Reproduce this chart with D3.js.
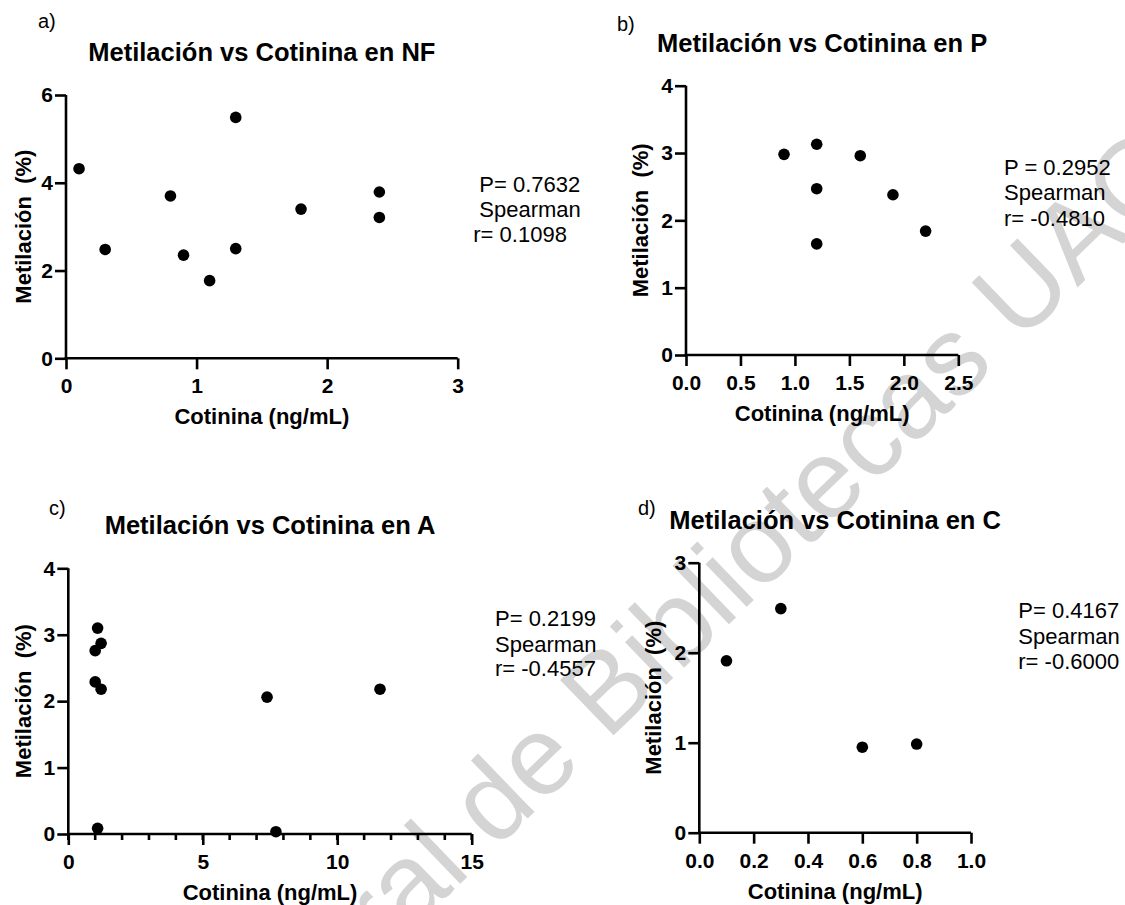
<!DOCTYPE html>
<html>
<head>
<meta charset="utf-8">
<script src="https://cdn.jsdelivr.net/npm/d3@7"></script>
<style>
  html, body { margin: 0; padding: 0; background: #ffffff; }
  svg { display: block; }
  text { font-family: "Liberation Sans", Arial, Helvetica, sans-serif; }
</style>
</head>
<body>
<svg id="chart" width="1125" height="905"></svg>
<script>
// ---------------- DATA ----------------
const nfCotinina = [0.1, 0.3, 0.8, 0.9, 1.1, 1.3, 1.3, 1.8, 2.4, 2.4];
const nfMetilacion = [4.32, 2.48, 3.70, 2.35, 1.77, 5.49, 2.50, 3.40, 3.79, 3.21];

const pCotinina = [0.9, 1.2, 1.2, 1.2, 1.6, 1.9, 2.2];
const pMetilacion = [2.98, 3.13, 2.47, 1.65, 2.96, 2.38, 1.84];

const aCotinina = [1.09, 1.22, 1.0, 1.0, 1.22, 1.09, 7.39, 7.72, 11.59];
const aMetilacion = [3.10, 2.87, 2.76, 2.29, 2.18, 0.085, 2.06, 0.035, 2.18];

const cCotinina = [0.1, 0.3, 0.6, 0.8];
const cMetilacion = [1.91, 2.49, 0.95, 0.985];

const titles = ["Metilación vs Cotinina en NF", "Metilación vs Cotinina en P",
                "Metilación vs Cotinina en A", "Metilación vs Cotinina en C"];
const panelLetters = ["a)", "b)", "c)", "d)"];
const statsText = [
  ["P= 0.7632", "Spearman", "r= 0.1098"],
  ["P = 0.2952", "Spearman", "r= -0.4810"],
  ["P= 0.2199", "Spearman", "r= -0.4557"],
  ["P= 0.4167", "Spearman", "r= -0.6000"]
];
const xTicksNF = [0, 1, 2, 3];
const yTicksNF = [0, 2, 4, 6];
const xTicksP = [0, 0.5, 1.0, 1.5, 2.0, 2.5];
const yTicksP = [0, 1, 2, 3, 4];
const xTicksA = [0, 5, 10, 15];
const xMinorA = d3.range(0, 16, 1);
const yTicksA = [0, 1, 2, 3, 4];
const xTicksC = [0, 0.2, 0.4, 0.6, 0.8, 1.0];
const yTicksC = [0, 1, 2, 3];
const xLabel = "Cotinina (ng/mL)";
const yLabel = "Metilación  (%)";
const watermarkHead = "Dirección General ";
const watermarkTail = "de Bibliotecas UAQ";

// ---------------- LAYOUT ----------------
const panels = [
  { xs: nfCotinina, ys: nfMetilacion, xDom: [0, 3], yDom: [0, 6], xTicks: xTicksNF, yTicks: yTicksNF, xFmt: d3.format("d"),
    xr: [66, 457.7], yr: [358.3, 95], titleY: 61, letter: [38, 28],
    stats: { xs: [479.3, 479.3, 473.3], ys: [191.7, 216.7, 241.7] }, ylabOff: 35 },
  { xs: pCotinina, ys: pMetilacion, xDom: [0, 2.5], yDom: [0, 4], xTicks: xTicksP, yTicks: yTicksP, xFmt: d3.format(".1f"),
    xr: [686, 958.3], yr: [355, 85.7], titleY: 51.7, letter: [617, 31],
    stats: { xs: [1004, 1004, 1004], ys: [175, 200, 225.7] }, ylabOff: 38 },
  { xs: aCotinina, ys: aMetilacion, xDom: [0, 15], yDom: [0, 4], xTicks: xTicksA, yTicks: yTicksA, xFmt: d3.format("d"), xMinor: xMinorA,
    xr: [68.3, 471.7], yr: [834, 568.3], titleY: 534.3, letter: [49, 514.5],
    stats: { xs: [495, 495, 495], ys: [626, 651.7, 676] }, ylabOff: 37 },
  { xs: cCotinina, ys: cMetilacion, xDom: [0, 1.0], yDom: [0, 3], xTicks: xTicksC, yTicks: yTicksC, xFmt: d3.format(".1f"),
    xr: [699.3, 971], yr: [832.7, 562.7], titleY: 529.3, letter: [638, 515],
    stats: { xs: [1018.3, 1018.3, 1018.3], ys: [618, 644, 669] }, ylabOff: 38 }
];

const svg = d3.select("#chart");
svg.append("rect").attr("width", 1125).attr("height", 905).attr("fill", "#fff");

// watermark (behind everything), pivot at the start of "de"
const wm = svg.append("g").attr("transform", "translate(495,850) rotate(-44)")
  .attr("font-size", 112).attr("fill", "#d4d4d4");
wm.append("text").attr("text-anchor", "end").style("white-space", "pre").text(watermarkHead);
wm.append("text").attr("text-anchor", "start").text(watermarkTail);

const AXIS_W = 2.6;
const TICK_FS = 21;

panels.forEach((p, i) => {
  const x = d3.scaleLinear().domain(p.xDom).range(p.xr);
  const y = d3.scaleLinear().domain(p.yDom).range(p.yr);
  const g = svg.append("g");

  if (p.xMinor) {
    g.append("g").selectAll("line").data(p.xMinor).join("line")
      .attr("x1", d => x(d)).attr("x2", d => x(d))
      .attr("y1", p.yr[0]).attr("y2", p.yr[0] + 6)
      .attr("stroke", "#000").attr("stroke-width", AXIS_W);
  }

  const xAxis = d3.axisBottom(x).tickValues(p.xTicks).tickFormat(p.xFmt)
    .tickSize(11).tickSizeOuter(0).tickPadding(9);
  const yAxis = d3.axisLeft(y).tickValues(p.yTicks).tickFormat(d3.format("d"))
    .tickSize(11).tickSizeOuter(0).tickPadding(2);

  const gx = g.append("g").attr("transform", `translate(0,${p.yr[0]})`).call(xAxis);
  const gy = g.append("g").attr("transform", `translate(${p.xr[0]},0)`).call(yAxis);
  [gx, gy].forEach(a => {
    a.attr("font-size", TICK_FS).attr("font-family", "'Liberation Sans', Arial, sans-serif");
    a.select(".domain").attr("stroke", "#000").attr("stroke-width", AXIS_W);
    a.selectAll(".tick line").attr("stroke", "#000").attr("stroke-width", AXIS_W);
    a.selectAll(".tick text").attr("fill", "#000").attr("font-size", TICK_FS).attr("font-weight", "bold");
  });
  gx.select(".domain").attr("d", `M${p.xr[0] - AXIS_W / 2},0H${p.xr[1]}`);
  gy.select(".domain").attr("d", `M0,${p.yr[0] + AXIS_W / 2}V${p.yr[1]}`);

  const pts = p.xs.map((v, k) => [v, p.ys[k]]);
  g.append("g").selectAll("circle").data(pts).join("circle")
    .attr("cx", d => x(d[0])).attr("cy", d => y(d[1]))
    .attr("r", 5.8).attr("fill", "#000");

  const cx = (p.xr[0] + p.xr[1]) / 2;
  g.append("text").attr("x", cx).attr("y", p.titleY)
    .attr("text-anchor", "middle").attr("font-size", 25.5).attr("font-weight", "bold")
    .attr("fill", "#000").text(titles[i]);

  g.append("text").attr("x", p.letter[0]).attr("y", p.letter[1])
    .attr("font-size", 20).attr("fill", "#000").text(panelLetters[i]);

  g.append("text").attr("x", cx).attr("y", p.yr[0] + 66)
    .attr("text-anchor", "middle").attr("font-size", 22).attr("font-weight", "bold")
    .attr("fill", "#000").text(xLabel);

  const cy = (p.yr[0] + p.yr[1]) / 2;
  g.append("text")
    .attr("transform", `translate(${p.xr[0] - p.ylabOff},${cy}) rotate(-90)`)
    .attr("text-anchor", "middle").attr("font-size", 22).attr("font-weight", "bold")
    .attr("fill", "#000").style("white-space", "pre").text(yLabel);

  statsText[i].forEach((t, k) => {
    g.append("text").attr("x", p.stats.xs[k]).attr("y", p.stats.ys[k])
      .attr("font-size", 22).attr("fill", "#000").style("white-space", "pre").text(t);
  });
});
</script>
</body>
</html>
